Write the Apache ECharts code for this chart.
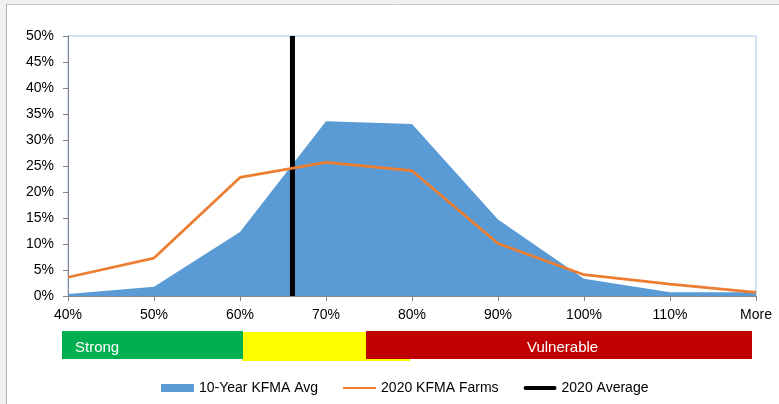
<!DOCTYPE html>
<html>
<head>
<meta charset="utf-8">
<script src="https://cdn.jsdelivr.net/npm/echarts@6/dist/echarts.min.js"></script>
<style>
  html, body { margin: 0; padding: 0; background: #ffffff; }
  #chart { width: 779px; height: 404px; }
</style>
</head>
<body>
<div id="chart"></div>
<script>
// Ratio bins on the horizontal axis
const categories = ['40%', '50%', '60%', '70%', '80%', '90%', '100%', '110%', 'More'];
// Share of farms in each bin (percent)
const tenYearAvg = [0.4, 1.8, 12.3, 33.6, 33.1, 14.7, 3.3, 0.7, 0.7];
const farms2020 = [3.6, 7.3, 22.8, 25.7, 24.1, 10.1, 4.1, 2.3, 0.7];
// 2020 average ratio (percent) drawn as a vertical marker
const average2020 = 66.1;
// Numeric position of the first and last bin on the marker axis
const binStart = 40, binStep = 10;
const yTicks = [0, 5, 10, 15, 20, 25, 30, 35, 40, 45, 50];

const FONT = 'Liberation Sans, Arial, sans-serif';
const chart = echarts.init(document.getElementById('chart'), null, { renderer: 'canvas' });

const option = {
  animation: false,
  backgroundColor: '#ffffff',
  grid: {
    left: 68, right: 23, top: 36, bottom: 108,
    show: true, borderColor: '#9dc3e6', borderWidth: 1, backgroundColor: 'transparent'
  },
  legend: {
    bottom: 4,
    left: 156,
    itemGap: 25,
    itemWidth: 33,
    itemHeight: 8,
    textStyle: { fontFamily: FONT, fontSize: 14, color: '#000' },
    data: [
      { name: '10-Year KFMA Avg', icon: 'rect' },
      { name: '2020 KFMA Farms', icon: 'path://M0,0 L33,0 L33,2 L0,2 Z' },
      { name: '2020 Average', icon: 'path://M2,0 L31,0 A2,2 0 0 1 31,4 L2,4 A2,2 0 0 1 2,0 Z' }
    ]
  },
  xAxis: [
    {
      type: 'category',
      data: categories,
      boundaryGap: false,
      axisLine: { lineStyle: { color: '#868686', width: 1 } },
      axisTick: { show: true, length: 5, lineStyle: { color: '#868686' } },
      axisLabel: { fontFamily: FONT, fontSize: 14, color: '#000', margin: 12 },
      splitLine: { show: false }
    },
    {
      type: 'value',
      min: binStart,
      max: binStart + binStep * (categories.length - 1),
      show: false,
      splitLine: { show: false }
    }
  ],
  yAxis: {
    type: 'value',
    min: yTicks[0],
    max: yTicks[yTicks.length - 1],
    interval: 5,
    axisLine: { show: true, lineStyle: { color: '#868686', width: 1 } },
    axisTick: { show: true, length: 5, lineStyle: { color: '#868686' } },
    axisLabel: { fontFamily: FONT, fontSize: 14, color: '#000', margin: 14, formatter: '{value}%' },
    splitLine: { show: false }
  },
  series: [
    {
      name: '10-Year KFMA Avg',
      type: 'line',
      data: tenYearAvg,
      symbol: 'none',
      lineStyle: { width: 0 },
      itemStyle: { color: '#5b9bd5' },
      areaStyle: { color: '#5b9bd5', opacity: 1 },
      z: 1
    },
    {
      name: '2020 KFMA Farms',
      type: 'line',
      data: farms2020,
      symbol: 'none',
      lineStyle: { color: '#ed7d31', width: 2.75 },
      itemStyle: { color: '#ed7d31' },
      z: 3
    },
    {
      name: '2020 Average',
      type: 'line',
      xAxisIndex: 1,
      data: [[average2020, yTicks[0]], [average2020, yTicks[yTicks.length - 1]]],
      symbol: 'none',
      lineStyle: { color: '#000000', width: 5, cap: 'butt' },
      itemStyle: { color: '#000000' },
      z: 2
    }
  ],
  graphic: [
    // window frame
    { type: 'rect', shape: { x: 0, y: 0, width: 779, height: 4 }, style: { fill: '#f0f0f0' }, silent: true },
    { type: 'rect', shape: { x: 0, y: 0, width: 6, height: 404 }, style: { fill: '#f0f0f0' }, silent: true },
    { type: 'line', shape: { x1: 6, y1: 4.5, x2: 779, y2: 4.5 }, style: { stroke: '#c8c8c8', lineWidth: 1 }, silent: true },
    { type: 'line', shape: { x1: 6.5, y1: 4, x2: 6.5, y2: 404 }, style: { stroke: '#b4b4b4', lineWidth: 1 }, silent: true },
    // strength bands
    { type: 'rect', shape: { x: 242, y: 332, width: 124, height: 29 }, style: { fill: '#ffff00' }, silent: true },
    { type: 'rect', shape: { x: 366, y: 358, width: 44, height: 3 }, style: { fill: '#ffff00' }, silent: true },
    { type: 'rect', shape: { x: 62, y: 331, width: 181, height: 28 }, style: { fill: '#00b050' }, silent: true },
    { type: 'rect', shape: { x: 366, y: 331, width: 386, height: 28 }, style: { fill: '#c00000' }, silent: true },
    {
      type: 'text', left: 75, top: 340, silent: true,
      style: { text: 'Strong', fill: '#ffffff', font: '15px ' + FONT }
    },
    {
      type: 'text', left: 527, top: 340, silent: true,
      style: { text: 'Vulnerable', fill: '#ffffff', font: '15px ' + FONT }
    }
  ]
};

chart.setOption(option);
</script>
</body>
</html>
